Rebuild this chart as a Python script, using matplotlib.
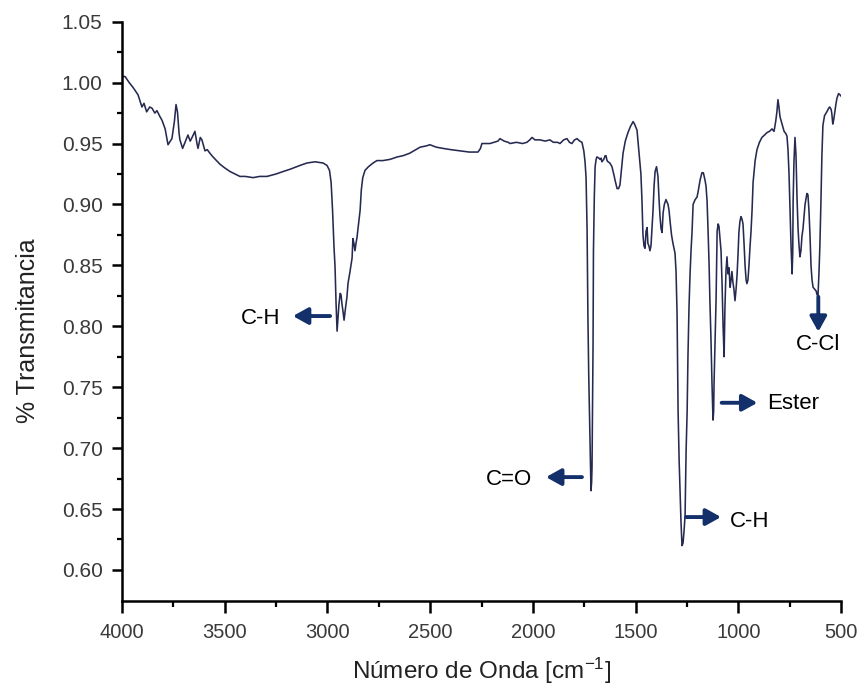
import matplotlib
matplotlib.use("Agg")
import matplotlib.pyplot as plt
from matplotlib.ticker import MultipleLocator, FixedLocator, FormatStrFormatter

plt.rcParams['font.family'] = ['Liberation Sans', 'DejaVu Sans']
plt.rcParams['mathtext.default'] = 'regular'

# ---- data ----
wavenumber = [
    4000, 3985, 3965, 3946, 3922, 3903, 3893, 3880, 3865, 3854, 3840, 3830, 3815, 3805, 3790,
    3776, 3765, 3757, 3745, 3737, 3730, 3722, 3718, 3705, 3693, 3679, 3668, 3659, 3645, 3635,
    3630, 3619, 3611, 3596, 3585, 3572, 3557, 3540, 3523, 3500, 3474, 3450, 3426, 3400, 3362,
    3330, 3294, 3250, 3216, 3180, 3134, 3100, 3060, 3021, 3002, 2990, 2982, 2975, 2968, 2963,
    2958, 2953, 2948, 2944, 2938, 2934, 2929, 2924, 2919, 2912, 2905, 2900, 2890, 2880, 2876,
    2871, 2866, 2861, 2856, 2848, 2841, 2835, 2828, 2817, 2800, 2778, 2759, 2730, 2695, 2660,
    2632, 2600, 2570, 2549, 2520, 2501, 2470, 2437, 2400, 2355, 2310, 2267, 2255, 2248, 2230,
    2209, 2190, 2170, 2160, 2140, 2120, 2111, 2080, 2050, 2029, 2015, 2004, 1990, 1965, 1940,
    1917, 1900, 1880, 1868, 1850, 1834, 1822, 1810, 1797, 1785, 1772, 1761, 1752, 1746, 1741,
    1736, 1732, 1728, 1724, 1720, 1717, 1714, 1712, 1709, 1707, 1705, 1701, 1697, 1692, 1688,
    1678, 1673, 1668, 1664, 1655, 1648, 1644, 1639, 1634, 1625, 1615, 1605, 1600, 1590, 1583,
    1576, 1568, 1561, 1550, 1537, 1525, 1512, 1505, 1493, 1483, 1474, 1469, 1464, 1459, 1454,
    1449, 1444, 1440, 1435, 1430, 1425, 1420, 1415, 1410, 1405, 1398, 1391, 1386, 1381, 1376,
    1371, 1366, 1360, 1352, 1342, 1337, 1332, 1325, 1318, 1308, 1303, 1298, 1293, 1288, 1284,
    1279, 1274, 1269, 1264, 1259, 1254, 1249, 1245, 1240, 1235, 1230, 1225, 1220, 1210, 1201,
    1196, 1186, 1177, 1170, 1162, 1157, 1152, 1147, 1142, 1138, 1133, 1128, 1123, 1120, 1118,
    1113, 1108, 1103, 1098, 1094, 1089, 1084, 1079, 1074, 1069, 1065, 1060, 1055, 1050, 1045,
    1040, 1035, 1031, 1026, 1021, 1016, 1011, 1006, 1001, 997, 992, 987, 982, 977, 972,
    967, 962, 958, 953, 948, 943, 938, 933, 928, 918, 909, 897, 885, 872, 860,
    848, 836, 826, 818, 812, 807, 802, 797, 787, 777, 768, 763, 758, 753, 748,
    743, 738, 735, 733, 729, 724, 719, 714, 709, 705, 700, 695, 690, 685, 680,
    675, 666, 661, 656, 651, 646, 641, 636, 631, 626, 621, 617, 612, 607, 603,
    598, 593, 588, 580, 569, 560, 555, 548, 545, 540, 535, 531, 525, 520, 512,
    505, 500,
]
transmittance = [
    1.005, 1.005, 1.000, 0.996, 0.990, 0.980, 0.983, 0.976, 0.980, 0.979, 0.975, 0.977, 0.972, 0.969, 0.962,
    0.949, 0.952, 0.954, 0.968, 0.982, 0.976, 0.958, 0.953, 0.946, 0.951, 0.957, 0.952, 0.955, 0.960, 0.950,
    0.946, 0.955, 0.953, 0.944, 0.945, 0.942, 0.939, 0.936, 0.933, 0.930, 0.927, 0.925, 0.923, 0.923, 0.922,
    0.923, 0.923, 0.925, 0.927, 0.929, 0.932, 0.934, 0.935, 0.934, 0.932, 0.928, 0.918, 0.895, 0.865, 0.849,
    0.819, 0.796, 0.808, 0.818, 0.827, 0.826, 0.818, 0.812, 0.805, 0.815, 0.824, 0.835, 0.845, 0.856, 0.872,
    0.868, 0.862, 0.868, 0.873, 0.885, 0.895, 0.912, 0.922, 0.928, 0.931, 0.934, 0.936, 0.936, 0.937, 0.939,
    0.940, 0.942, 0.945, 0.947, 0.948, 0.949, 0.947, 0.946, 0.945, 0.944, 0.943, 0.943, 0.946, 0.950, 0.950,
    0.950, 0.951, 0.952, 0.954, 0.952, 0.951, 0.950, 0.951, 0.950, 0.951, 0.953, 0.955, 0.953, 0.953, 0.952,
    0.953, 0.951, 0.951, 0.950, 0.953, 0.954, 0.951, 0.950, 0.953, 0.954, 0.952, 0.951, 0.944, 0.935, 0.922,
    0.879, 0.808, 0.760, 0.725, 0.690, 0.665, 0.672, 0.684, 0.740, 0.786, 0.862, 0.905, 0.931, 0.937, 0.939,
    0.938, 0.937, 0.938, 0.935, 0.937, 0.940, 0.940, 0.936, 0.935, 0.934, 0.931, 0.924, 0.920, 0.913, 0.913,
    0.916, 0.930, 0.942, 0.952, 0.959, 0.964, 0.968, 0.966, 0.961, 0.942, 0.925, 0.904, 0.875, 0.866, 0.864,
    0.878, 0.881, 0.868, 0.866, 0.862, 0.866, 0.880, 0.895, 0.915, 0.927, 0.931, 0.923, 0.905, 0.890, 0.880,
    0.877, 0.893, 0.900, 0.904, 0.900, 0.895, 0.886, 0.875, 0.868, 0.860, 0.845, 0.810, 0.730, 0.690, 0.668,
    0.640, 0.620, 0.622, 0.632, 0.645, 0.698, 0.730, 0.775, 0.815, 0.842, 0.862, 0.878, 0.900, 0.904, 0.906,
    0.910, 0.920, 0.926, 0.926, 0.920, 0.915, 0.903, 0.878, 0.850, 0.820, 0.790, 0.753, 0.723, 0.730, 0.753,
    0.790, 0.823, 0.878, 0.884, 0.882, 0.872, 0.862, 0.835, 0.800, 0.775, 0.815, 0.845, 0.857, 0.843, 0.848,
    0.832, 0.838, 0.845, 0.836, 0.830, 0.821, 0.830, 0.842, 0.860, 0.877, 0.886, 0.890, 0.888, 0.884, 0.868,
    0.850, 0.838, 0.835, 0.838, 0.850, 0.865, 0.878, 0.895, 0.918, 0.936, 0.945, 0.951, 0.955, 0.957, 0.959,
    0.960, 0.962, 0.960, 0.968, 0.976, 0.986, 0.980, 0.972, 0.966, 0.960, 0.958, 0.956, 0.945, 0.925, 0.895,
    0.865, 0.843, 0.860, 0.903, 0.935, 0.955, 0.940, 0.905, 0.880, 0.868, 0.857, 0.862, 0.874, 0.880, 0.890,
    0.900, 0.909, 0.908, 0.895, 0.875, 0.850, 0.838, 0.832, 0.831, 0.830, 0.829, 0.826, 0.825, 0.845, 0.865,
    0.900, 0.940, 0.965, 0.973, 0.976, 0.979, 0.980, 0.978, 0.975, 0.966, 0.970, 0.975, 0.982, 0.987, 0.991,
    0.990, 0.989,
]

x_ticks = [4000, 3500, 3000, 2500, 2000, 1500, 1000, 500]
y_ticks = [0.60, 0.65, 0.70, 0.75, 0.80, 0.85, 0.90, 0.95, 1.00, 1.05]

# annotations: label, arrow tail, arrow head, text position, text alignment
ann_labels = ["C-H", "C=O", "C-H", "Ester", "C-Cl"]
ann_tail = [(2987, 0.8084), (1761, 0.6762), (1254, 0.6434), (1081, 0.7372), (610.5, 0.8242)]
ann_head = [(3168, 0.8084), (1936, 0.6762), (1084, 0.6434), (907, 0.7372), (610.5, 0.7955)]
ann_text = [(3231, 0.8060), (2004, 0.6740), (1040, 0.6395), (859, 0.7367), (610, 0.7853)]
ann_ha = ["right", "right", "left", "left", "center"]

line_color = "#272a50"
arrow_color = "#14306b"

fig = plt.figure(figsize=(8.65, 6.98), dpi=100)
ax = fig.add_axes([122 / 865, 1 - 601 / 698, 719 / 865, 579.3 / 698])

ax.plot(wavenumber, transmittance, color=line_color, lw=1.15)

ax.set_xlim(4000, 500)
ax.set_ylim(0.5745, 1.05)

ax.xaxis.set_major_locator(FixedLocator(x_ticks))
ax.xaxis.set_minor_locator(MultipleLocator(250))
ax.yaxis.set_major_locator(FixedLocator(y_ticks))
ax.yaxis.set_minor_locator(FixedLocator([0.625 + 0.05 * i for i in range(9)]))
ax.yaxis.set_major_formatter(FormatStrFormatter('%.2f'))

for s in ['top', 'right']:
    ax.spines[s].set_visible(False)
for s in ['left', 'bottom']:
    ax.spines[s].set_linewidth(1.8)
    ax.spines[s].set_color('black')

ax.tick_params(axis='x', which='major', length=8.5, width=1.8, pad=7,
               labelsize=14.5, labelcolor='#3a3a3a')
ax.tick_params(axis='x', which='minor', length=4.5, width=1.6)
ax.tick_params(axis='y', which='major', length=7, width=1.8, pad=7,
               labelsize=15, labelcolor='#3a3a3a')
ax.tick_params(axis='y', which='minor', length=3.5, width=1.6)

ax.set_xlabel("Número de Onda [cm$^{-1}$]", fontsize=17.5, color='#222222')
ax.xaxis.set_label_coords(0.5, -0.095)
ax.set_ylabel("% Transmitancia", fontsize=18, color='#222222')
ax.yaxis.set_label_coords(-0.114, 0.466)

for lab, tail, head, tpos, ha in zip(ann_labels, ann_tail, ann_head, ann_text, ann_ha):
    ax.annotate("", xy=head, xytext=tail,
                arrowprops=dict(arrowstyle='-|>,head_length=0.45,head_width=0.25',
                                color=arrow_color, lw=2.8, shrinkA=0, shrinkB=0,
                                mutation_scale=20))
    ax.text(tpos[0], tpos[1], lab, ha=ha, va='center', fontsize=16, color='black')

fig.savefig("out.png", dpi=100, facecolor='white')
